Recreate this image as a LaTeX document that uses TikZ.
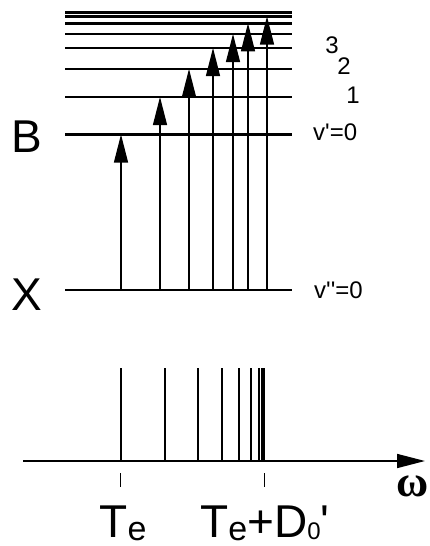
\documentclass[tikz,border=0pt]{standalone}
\usepackage{fontspec}
\setmainfont{Liberation Sans}
\newfontfamily\omegafont{Liberation Serif}
\usepackage{tikz}
\usetikzlibrary{arrows.meta, positioning}

\begin{document}
\begin{tikzpicture}[
    x=1pt, y=-1pt,
    >={Triangle[length=28pt, width=14pt]},
    level/.style={line width=2.8pt},
    trans/.style={->, line width=1.2pt},
    peak/.style={line width=2.7pt},
    tick/.style={line width=0.9pt},
    state/.style={font=\fontsize{46}{46}\selectfont},
    vib/.style={font=\fontsize{24}{24}\selectfont, inner sep=0pt},
    freq/.style={font=\fontsize{46}{46}\selectfont, inner sep=0pt}
  ]
  \useasboundingbox (0,0) rectangle (430,546);
  % vibrational levels of B
  \foreach \n/\y in {0/134.5, 1/97, 2/69, 3/48, 4/34, 5/23.3, 6/16.5, 7/12.3} {
    \coordinate (bl\n) at (65,\y);
    \coordinate (br\n) at (292,\y);
    \draw[level] (bl\n) -- (br\n);
  }
  \coordinate (xl) at (65,290);
  \coordinate (xr) at (292,290);
  \draw[level] (xl) -- (xr);
  \node[state] (B) at (27,137) {B};
  \node[state] (X) at (27,295) {X};
  % transitions from v''=0
  \foreach \n/\x in {0/121, 1/160, 2/189, 3/213, 4/233, 5/248, 6/267} {
    \coordinate (lo\n) at (\x,290);
    \draw[trans] (lo\n) -- (lo\n |- bl\n);
  }
  \node[vib, anchor=west] (v0) at (313,132) {v\textquotesingle=0};
  \node[vib, anchor=west] (v00) at (314,290) {v\textquotesingle\textquotesingle=0};
  \node[vib] (v1) at (353,95) {1};
  \node[vib] (v2) at (344,66) {2};
  \node[vib] (v3) at (332,45) {3};
  % spectrum
  \coordinate (a0) at (23,461);
  \coordinate (a1) at (425,461);
  \draw[->, line width=1.6pt] (a0) -- (a1);
  \foreach \x in {121, 165, 198, 222, 239, 251, 259, 262, 264} {
    \draw[peak] (\x,368) -- (\x,461);
  }
  \coordinate (t0) at (120,473);
  \coordinate (t1) at (264,473);
  \draw[tick] (t0) -- ++(0,14);
  \draw[tick] (t1) -- ++(0,14);
  \node[font=\omegafont\bfseries\fontsize{44}{44}\selectfont, inner sep=0pt] (w) at (413,486) {ω};
  \node[freq] (te) at (123,523) {T\raisebox{-3pt}{\fontsize{34}{34}\selectfont e}};
  \node[freq] (td) at (265,523) {T\raisebox{-3pt}{\fontsize{34}{34}\selectfont e}+D\raisebox{-2pt}{\fontsize{24}{24}\selectfont 0}\textquotesingle};
\end{tikzpicture}
\end{document}
